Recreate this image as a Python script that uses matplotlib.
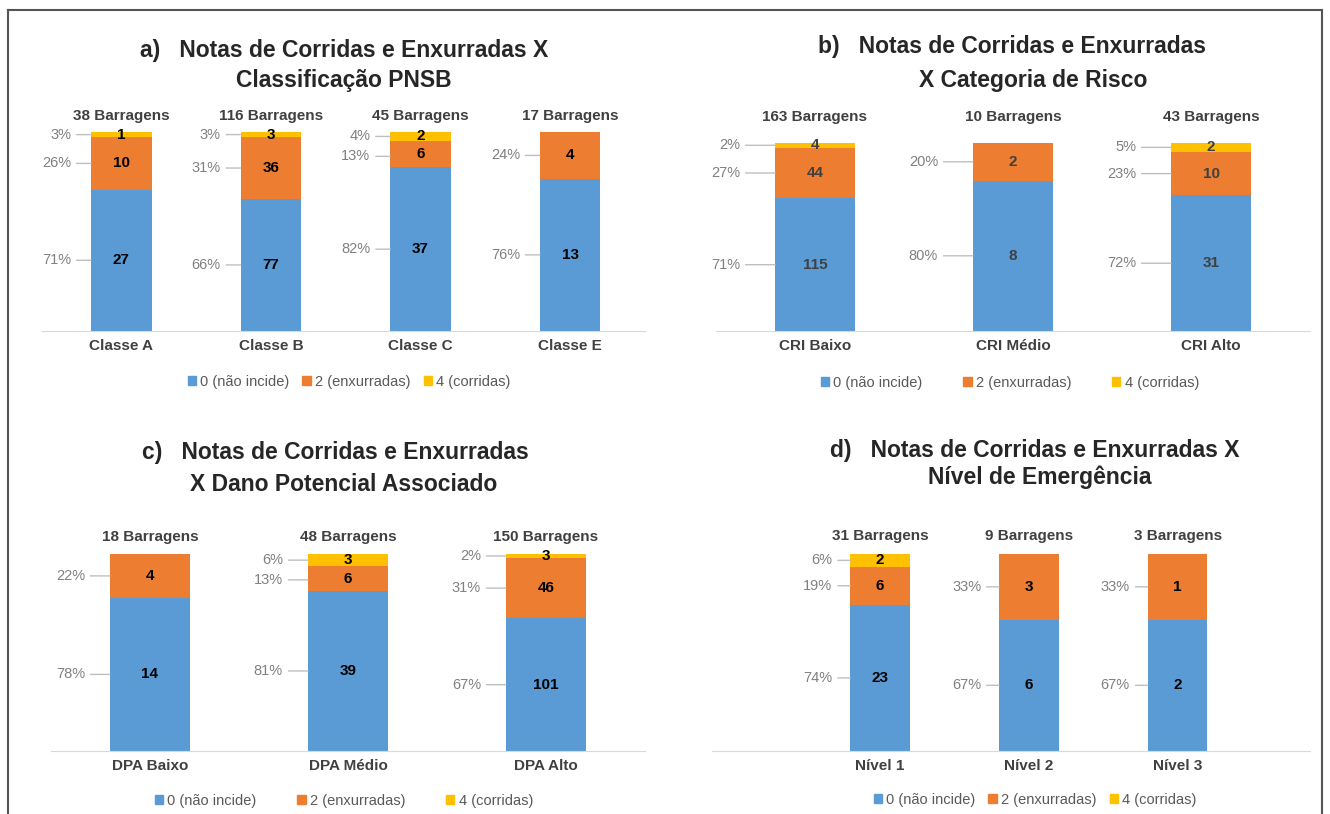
import numpy as np
import matplotlib
matplotlib.use('Agg')
import matplotlib.pyplot as plt
from matplotlib.patches import Patch
from matplotlib.lines import Line2D

plt.rcParams['font.family'] = ['Liberation Sans', 'DejaVu Sans']

# dados (numero de barragens por nota)
series_names = ['0 (não incide)', '2 (enxurradas)', '4 (corridas)']
colors = ['#5B9BD5', '#ED7D31', '#FFC000']

categories_a = ['Classe A', 'Classe B', 'Classe C', 'Classe E']
nao_incide_a = [27, 77, 37, 13]
enxurradas_a = [10, 36, 6, 4]
corridas_a = [1, 3, 2, 0]

categories_b = ['CRI Baixo', 'CRI Médio', 'CRI Alto']
nao_incide_b = [115, 8, 31]
enxurradas_b = [44, 2, 10]
corridas_b = [4, 0, 2]

categories_c = ['DPA Baixo', 'DPA Médio', 'DPA Alto']
nao_incide_c = [14, 39, 101]
enxurradas_c = [4, 6, 46]
corridas_c = [0, 3, 3]

categories_d = ['Nível 1', 'Nível 2', 'Nível 3']
nao_incide_d = [23, 6, 2]
enxurradas_d = [6, 3, 1]
corridas_d = [2, 0, 0]

W, H = 1330, 814
fig = plt.figure(figsize=(W / 100, H / 100), dpi=100)


def px_axes(l, r, t, b):
    return fig.add_axes([l / W, 1 - b / H, (r - l) / W, (b - t) / H])


def draw_panel(ax, cats, counts, xlim, bar_w, pct_gap, top_off, count_color):
    counts = np.array(counts, dtype=float)
    totals = counts.sum(axis=0)
    fracs = counts / totals
    x = np.arange(len(cats))
    bottom = np.zeros(len(cats))
    for k in range(3):
        ax.bar(x, fracs[k], bar_w, bottom=bottom, color=colors[k], linewidth=0)
        bottom += fracs[k]

    for i in range(len(cats)):
        lows = np.concatenate([[0], np.cumsum(fracs[:, i])])
        prev_y = None
        for k in [2, 1, 0]:
            n = counts[k, i]
            if n == 0:
                continue
            center = (lows[k] + lows[k + 1]) / 2
            label_y = center
            if prev_y is not None:
                label_y = min(label_y, prev_y - 0.1)
            prev_y = label_y
            pct = int(n / totals[i] * 100 + 0.5)
            ax.text(x[i], center, f'{int(n)}', ha='center', va='center',
                    fontsize=11, weight='bold', color=count_color)
            ax.annotate(f'{pct}%', xy=(x[i] - bar_w / 2, label_y),
                        xytext=(-pct_gap, 0), textcoords='offset pixels',
                        ha='right', va='center', fontsize=10.5, color='#808080',
                        arrowprops=dict(arrowstyle='-', color='#bfbfbf', lw=1,
                                        shrinkA=2, shrinkB=0),
                        annotation_clip=False)
        ax.annotate(f'{int(totals[i])} Barragens', xy=(x[i], 1.0),
                    xytext=(0, top_off), textcoords='offset pixels',
                    ha='center', va='center', fontsize=11, weight='bold',
                    color='#404040', annotation_clip=False)

    ax.set_xlim(xlim)
    ax.set_ylim(0, 1)
    for s in ['top', 'right', 'left']:
        ax.spines[s].set_visible(False)
    ax.spines['bottom'].set_color('#d9d9d9')
    ax.set_yticks([])
    ax.set_xticks(x, cats, fontsize=11, weight='bold', color='#404040')
    ax.tick_params(axis='x', length=0, pad=6)


def add_legend(cx, cy, cs):
    handles = [Patch(color=c) for c in colors]
    fig.legend(handles, series_names, loc='center', bbox_to_anchor=(cx / W, 1 - cy / H),
               ncol=3, frameon=False, fontsize=10.5, handlelength=0.55, handleheight=0.55,
               handletextpad=0.3, columnspacing=cs, labelcolor='#595959')


def add_title(line1, x1, y1, line2, x2, y2):
    fig.text(x1 / W, 1 - y1 / H, line1, ha='center', va='center', fontsize=16.5,
             weight='bold', color='#262626')
    fig.text(x2 / W, 1 - y2 / H, line2, ha='center', va='center', fontsize=16.5,
             weight='bold', color='#262626')


# a)
ax_a = px_axes(42, 645, 132, 331)
draw_panel(ax_a, categories_a, [nao_incide_a, enxurradas_a, corridas_a],
           (-0.53, 3.5), 0.405, 20, 16, 'black')
add_title('a)   Notas de Corridas e Enxurradas X', 344, 50, 'Classificação PNSB', 344, 80)
add_legend(349, 382, 0.9)

# b)
ax_b = px_axes(716, 1310, 143, 331)
draw_panel(ax_b, categories_b, [nao_incide_b, enxurradas_b, corridas_b],
           (-0.5, 2.5), 0.404, 35, 26, '#404040')
add_title('b)   Notas de Corridas e Enxurradas', 1012, 47, 'X Categoria de Risco', 1033, 80)
add_legend(1010, 383, 2.8)

# c)
ax_c = px_axes(51, 645, 554, 751)
draw_panel(ax_c, categories_c, [nao_incide_c, enxurradas_c, corridas_c],
           (-0.5, 2.5), 0.405, 25, 17, 'black')
add_title('c)   Notas de Corridas e Enxurradas', 335, 453, 'X Dano Potencial Associado', 344, 485)
add_legend(344, 801, 2.8)

# d)
ax_d = px_axes(712, 1310, 554, 751)
draw_panel(ax_d, categories_d, [nao_incide_d, enxurradas_d, corridas_d],
           (-1.13, 2.89), 0.40, 18, 18, 'black')
add_title('d)   Notas de Corridas e Enxurradas X', 1035, 450, 'Nível de Emergência', 1040, 477)
add_legend(1035, 800, 0.9)

# moldura da figura
border = dict(color='#555555', lw=1.5, transform=fig.transFigure)
fig.add_artist(Line2D([8 / W, 8 / W], [0, 1 - 10 / H], **border))
fig.add_artist(Line2D([8 / W, 1322 / W], [1 - 10 / H, 1 - 10 / H], **border))
fig.add_artist(Line2D([1322 / W, 1322 / W], [0, 1 - 10 / H], **border))

fig.savefig('out.png', dpi=100)
